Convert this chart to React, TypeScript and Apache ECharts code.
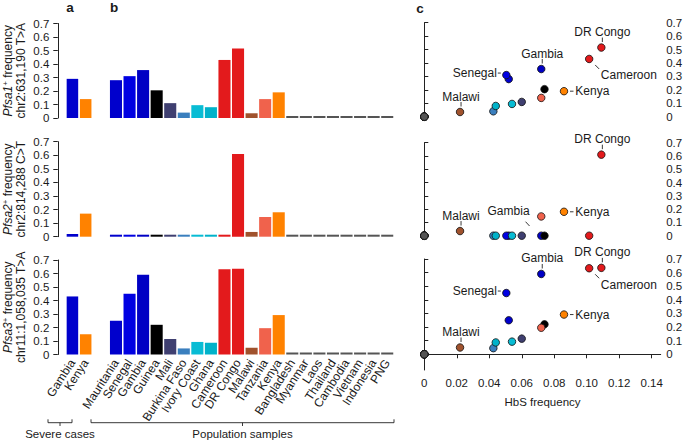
import React, { useEffect, useRef } from 'react';
import * as echarts from 'echarts';

// ---------- data ----------
const severeCases = ['Gambia', 'Kenya'];
const severePfsa1 = [0.29, 0.14];
const severePfsa2 = [0.02, 0.17];
const severePfsa3 = [0.43, 0.15];
const severeColors = ['#0000CC', '#FF8200'];

const populations = [
  'Mauritania', 'Senegal', 'Gambia', 'Guinea', 'Mali', 'Burkina Faso', 'Ivory Coast', 'Ghana',
  'Cameroon', 'DR Congo', 'Malawi', 'Tanzania', 'Kenya',
  'Bangladesh', 'Myanmar', 'Laos', 'Thailand', 'Cambodia', 'Vietnam', 'Indonesia', 'PNG',
];
const popColors = [
  '#0000CC', '#0000E2', '#0000C4', '#000000', '#3F3F70', '#3A7FBE', '#08BCD4', '#00B2CA',
  '#E31A1C', '#E31A1C', '#A0522D', '#F0624C', '#FF8200',
  '#555555', '#555555', '#555555', '#555555', '#555555', '#555555', '#555555', '#555555',
];
const pfsa1Freq = [0.28, 0.31, 0.355, 0.205, 0.11, 0.04, 0.095, 0.08, 0.43, 0.515, 0.035, 0.14, 0.19, 0, 0, 0, 0, 0, 0, 0, 0];
const pfsa2Freq = [0, 0, 0, 0, 0, 0, 0, 0, 0, 0.61, 0.035, 0.145, 0.18, 0, 0, 0, 0, 0, 0, 0, 0];
const pfsa3Freq = [0.25, 0.45, 0.59, 0.22, 0.115, 0.045, 0.093, 0.087, 0.632, 0.635, 0.05, 0.195, 0.292, 0, 0, 0, 0, 0, 0, 0, 0];
const hbsFreq = [0.052, 0.0505, 0.072, 0.074, 0.06, 0.0425, 0.054, 0.044, 0.1015, 0.109, 0.022, 0.072, 0.086, 0, 0, 0, 0, 0, 0, 0, 0];

const freqTicks = [0, 0.1, 0.2, 0.3, 0.4, 0.5, 0.6, 0.7];
const hbsTicks = [0, 0.02, 0.04, 0.06, 0.08, 0.1, 0.12, 0.14];

const rowGenes = ['Pfsa1', 'Pfsa2', 'Pfsa3'];
const rowLoci = ['chr2:631,190 T>A', 'chr2:814,288 C>T', 'chr11:1,058,035 T>A'];

// labelled points in panel c: [row, population, style]
const annotations: [number, string, string][] = [
  [0, 'DR Congo', 'above'], [0, 'Gambia', 'above'], [0, 'Senegal', 'left'],
  [0, 'Cameroon', 'belowRight'], [0, 'Kenya', 'right'], [0, 'Malawi', 'above'],
  [1, 'DR Congo', 'above'], [1, 'Malawi', 'above'], [1, 'Gambia', 'aboveLeft'], [1, 'Kenya', 'right'],
  [2, 'DR Congo', 'above'], [2, 'Cameroon', 'belowRight'], [2, 'Gambia', 'above'],
  [2, 'Senegal', 'left'], [2, 'Kenya', 'right'], [2, 'Malawi', 'above'],
];

// ---------- styling ----------
const FONT = "'Liberation Sans', Arial, Helvetica, sans-serif";
const TXT = '#1a1a1a';
const LINE = '#222222';

const barRows = [
  { top: 23.5, height: 94.5 },
  { top: 141.7, height: 95 },
  { top: 260, height: 94.5 },
];
const scatRows = [
  { top: 22.7, height: 94 },
  { top: 142.7, height: 93 },
  { top: 259, height: 111 },
];
const SC_LEFT = 424.3;
const SC_WIDTH = 236.4;
const HBS_MAX = 0.14554;
const SC_BOTTOM_MIN = -0.1153;

const fmtFreq = (v: number) => (v === 0 ? '0' : v.toFixed(1));
const fmtHbs = (v: number) => (v === 0 ? '0' : v.toFixed(2));

function buildOption() {
  const freqs = [pfsa1Freq, pfsa2Freq, pfsa3Freq];
  const severe = [severePfsa1, severePfsa2, severePfsa3];
  const grid: any[] = [];
  const xAxis: any[] = [];
  const yAxis: any[] = [];
  const series: any[] = [];
  const axisLineStyle = { color: LINE, width: 1 };
  const labelBase = { color: TXT, fontFamily: FONT, fontSize: 11.5 };

  // panel a
  for (let r = 0; r < 3; r++) {
    grid.push({ left: 65.8, width: 26.5, top: barRows[r].top, height: barRows[r].height, outerBoundsMode: 'none' });
    const gi = grid.length - 1;
    xAxis.push({
      type: 'category', gridIndex: gi, data: severeCases,
      axisLine: { show: false }, axisTick: { show: false },
      axisLabel: { show: r === 2, rotate: 57, margin: 6, interval: 0, color: TXT, fontFamily: FONT, fontSize: 12 },
    });
    yAxis.push({
      type: 'value', gridIndex: gi, min: 0, max: 0.7, interval: 0.1, offset: 8,
      axisLine: { show: true, lineStyle: axisLineStyle },
      axisTick: { show: true, length: 4.5, lineStyle: axisLineStyle },
      axisLabel: { ...labelBase, margin: 8.5, formatter: fmtFreq },
      splitLine: { show: false },
      name: `{it|${rowGenes[r]}}{sup|+}{n| frequency}\n{n|${rowLoci[r]}}`,
      nameLocation: 'middle', nameRotate: 90, nameGap: 30.5,
      nameTextStyle: {
        color: TXT, fontFamily: FONT, fontSize: 12, lineHeight: 13,
        rich: {
          it: { fontStyle: 'italic', fontFamily: FONT, fontSize: 12, color: TXT, lineHeight: 13 },
          sup: { fontFamily: FONT, fontSize: 8, color: TXT, verticalAlign: 'top', lineHeight: 13 },
          n: { fontFamily: FONT, fontSize: 12, color: TXT, lineHeight: 13 },
        },
      },
    });
    series.push({
      type: 'bar', xAxisIndex: gi, yAxisIndex: gi, barCategoryGap: '13%', barMinHeight: 2,
      data: severe[r].map((v, i) => ({ value: v, itemStyle: { color: severeColors[i] } })),
    });
  }
  // panel b
  for (let r = 0; r < 3; r++) {
    grid.push({ left: 109.2, width: 284.8, top: barRows[r].top, height: barRows[r].height, outerBoundsMode: 'none' });
    const gi = grid.length - 1;
    xAxis.push({
      type: 'category', gridIndex: gi, data: populations,
      axisLine: { show: false }, axisTick: { show: false },
      axisLabel: { show: r === 2, rotate: 57, margin: 6, interval: 0, color: TXT, fontFamily: FONT, fontSize: 12 },
    });
    yAxis.push({ type: 'value', gridIndex: gi, min: 0, max: 0.7, interval: 0.1, show: false, splitLine: { show: false } });
    series.push({
      type: 'bar', xAxisIndex: gi, yAxisIndex: gi, barCategoryGap: '11%', barMinHeight: 2,
      data: freqs[r].map((v, i) => ({ value: v, itemStyle: { color: popColors[i] } })),
    });
  }
  // panel c
  const order = populations.map((_, i) => i).sort((a, b) => (hbsFreq[a] === 0 ? -1 : 0) - (hbsFreq[b] === 0 ? -1 : 0));
  for (let r = 0; r < 3; r++) {
    const bottom = r === 2;
    grid.push({ left: SC_LEFT, width: SC_WIDTH, top: scatRows[r].top, height: scatRows[r].height, outerBoundsMode: 'none' });
    const gi = grid.length - 1;
    xAxis.push({
      type: 'value', gridIndex: gi, min: 0, max: HBS_MAX, show: bottom,
      axisLine: { show: true, lineStyle: axisLineStyle },
      axisTick: { show: true, length: 4, lineStyle: axisLineStyle, customValues: hbsTicks },
      axisLabel: { ...labelBase, margin: 7, customValues: hbsTicks, formatter: fmtHbs },
      splitLine: { show: false },
      name: 'HbS frequency', nameLocation: 'middle', nameGap: 26,
      nameTextStyle: { color: TXT, fontFamily: FONT, fontSize: 11.5 },
    });
    yAxis.push({
      type: 'value', gridIndex: gi, position: 'right',
      min: bottom ? SC_BOTTOM_MIN : 0, max: 0.7,
      axisLine: { show: true, lineStyle: axisLineStyle },
      axisTick: { show: true, length: 4, lineStyle: axisLineStyle, customValues: freqTicks },
      axisLabel: { ...labelBase, margin: 5.5, customValues: freqTicks, formatter: fmtFreq },
      splitLine: { show: false },
    });
    series.push({
      type: 'scatter', xAxisIndex: gi, yAxisIndex: gi, symbolSize: 7.5, clip: false,
      itemStyle: { borderColor: '#111', borderWidth: 0.8, opacity: 1 },
      data: order.map((i) => ({ value: [hbsFreq[i], freqs[r][i]], itemStyle: { color: popColors[i] } })),
    });
  }

  return {
    animation: false,
    backgroundColor: '#ffffff',
    textStyle: { fontFamily: FONT },
    grid, xAxis, yAxis, series,
  };
}

function staticGraphics() {
  const txt = (text: string, x: number, y: number, size: number, bold = false, vAlign = 'middle') => ({
    type: 'text', x, y, silent: true,
    style: { text, fill: TXT, fontFamily: FONT, fontSize: size, fontWeight: bold ? 'bold' : 'normal', align: 'center', verticalAlign: vAlign },
  });
  const ls = { stroke: LINE, lineWidth: 0.9, fill: 'none' };
  const bracket = (x1: number, x2: number) => {
    const xm = (x1 + x2) / 2;
    return [
      { type: 'polyline', silent: true, shape: { points: [[x1, 419.3], [x1, 422.7], [x2, 422.7], [x2, 419.3]] }, style: ls },
      { type: 'line', silent: true, shape: { x1: xm, y1: 422.7, x2: xm, y2: 426 }, style: ls },
    ];
  };
  return [
    txt('a', 70, 0.5, 13.5, true, 'top'),
    txt('b', 114, 0.5, 13.5, true, 'top'),
    txt('c', 420, 1, 13.5, true, 'top'),
    ...bracket(48, 72),
    ...bracket(91, 394),
    txt('Severe cases', 60, 434, 11.5),
    txt('Population samples', 242.5, 434, 11.5),
  ];
}

function annotationGraphics(chart: any) {
  const freqs = [pfsa1Freq, pfsa2Freq, pfsa3Freq];
  const out: any[] = [];
  const ls = { stroke: LINE, lineWidth: 0.9 };
  const line = (x1: number, y1: number, x2: number, y2: number) => ({ type: 'line', silent: true, shape: { x1, y1, x2, y2 }, style: ls });
  const txt = (text: string, x: number, y: number, align: string) => ({
    type: 'text', x, y, silent: true,
    style: { text, fill: TXT, fontFamily: FONT, fontSize: 12, align, verticalAlign: 'middle' },
  });
  for (const [row, name, kind] of annotations) {
    const i = populations.indexOf(name);
    const p = chart.convertToPixel({ gridIndex: 6 + row }, [hbsFreq[i], freqs[row][i]]);
    if (!p) continue;
    const [px, py] = p;
    if (kind === 'above') {
      out.push(line(px + 1, py - 10, px + 1, py - 5.5));
      out.push(txt(name, px + 1, py - 15.5, 'center'));
    } else if (kind === 'left') {
      out.push(line(px - 8.5, py - 2, px - 5.5, py - 2));
      out.push(txt(name, px - 9.5, py - 2.5, 'right'));
    } else if (kind === 'right') {
      out.push(line(px + 6, py, px + 9.5, py));
      out.push(txt(name, px + 11.3, py, 'left'));
    } else if (kind === 'belowRight') {
      out.push(line(px + 6, py + 6, px + 10, py + 10));
      out.push(txt(name, px + 11.7, py + 16.5, 'left'));
    } else if (kind === 'aboveLeft') {
      out.push(line(px - 15.7, py - 14, px - 11.7, py - 9.7));
      out.push(txt(name, px - 32.7, py - 24.7, 'center'));
    }
  }
  return out;
}

export default function App() {
  const ref = useRef<HTMLDivElement>(null);
  useEffect(() => {
    if (!ref.current) return;
    const chart = echarts.init(ref.current, null, { renderer: 'svg' });
    chart.setOption(buildOption() as any);
    chart.setOption({ graphic: [...staticGraphics(), ...annotationGraphics(chart)] } as any);
    return () => chart.dispose();
  }, []);
  return (
    <div
      ref={ref}
      style={{ position: 'fixed', left: 0, top: 0, width: 685, height: 440, background: '#fff' }}
    />
  );
}
